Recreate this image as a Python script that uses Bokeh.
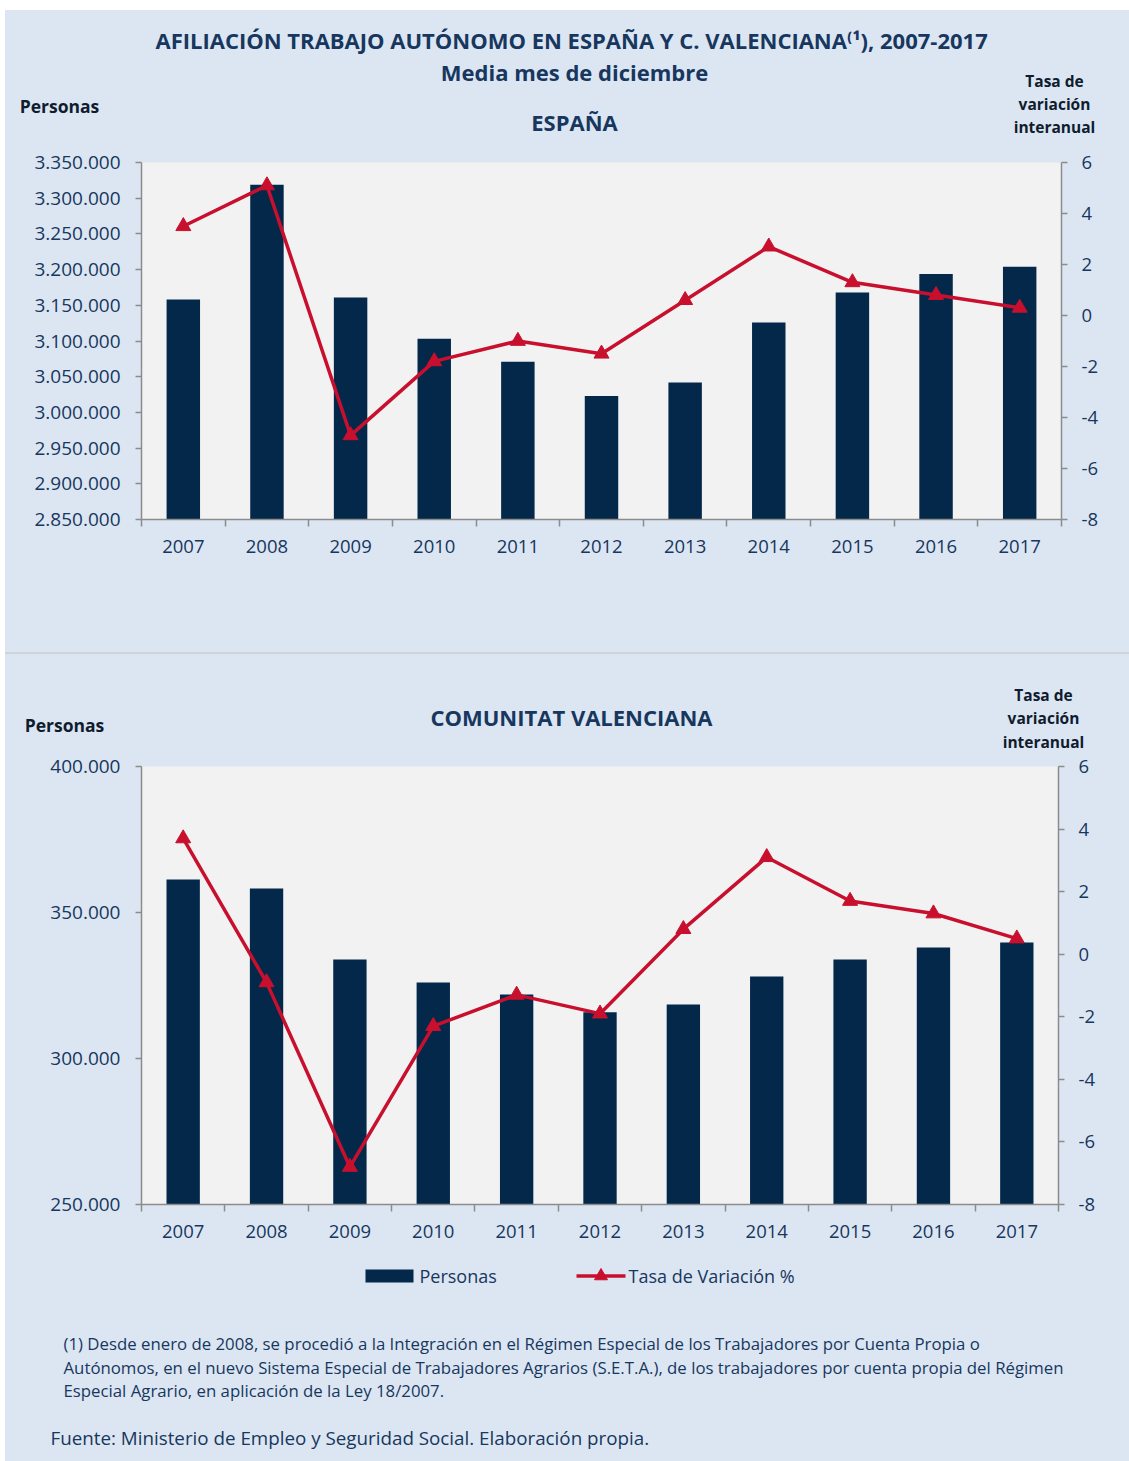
from bokeh.plotting import figure
from bokeh.models import Range1d, LinearAxis, FixedTicker, Label, CustomJSTickFormatter, Spacer
from bokeh.layouts import column
from bokeh.embed import file_html
from bokeh.resources import INLINE

# ---------------- data ----------------
years = ["2007", "2008", "2009", "2010", "2011", "2012", "2013", "2014", "2015", "2016", "2017"]
esp_personas = [3158000, 3319000, 3161000, 3103000, 3071000, 3023000, 3042000, 3126000, 3168000, 3194000, 3204000]
esp_tasa = [3.5, 5.1, -4.7, -1.8, -1.0, -1.5, 0.6, 2.7, 1.3, 0.8, 0.3]
cv_personas = [361300, 358200, 333900, 326000, 321900, 315800, 318500, 328100, 333900, 338000, 339700]
cv_tasa = [3.7, -0.9, -6.8, -2.3, -1.3, -1.9, 0.8, 3.1, 1.7, 1.3, 0.5]
esp_left_ticks = [2850000 + 50000 * i for i in range(11)]
cv_left_ticks = [250000, 300000, 350000, 400000]
tasa_ticks = [-8, -6, -4, -2, 0, 2, 4, 6]
legend_labels = ["Personas", "Tasa de Variación %"]

BG = "#dce6f2"
PLOT_BG = "#f2f2f2"
BAR = "#03284a"
RED = "#c8102e"
TXT = "#17375e"
DARK = "#0f1c2e"
AX = "#8c8c8c"
FONT = "Open Sans"

X0, Y0 = 5, 10          # page offset of the whole layout
W = 1129 - X0

centers = [i + 0.5 for i in range(len(years))]
bounds = [float(i) for i in range(len(years) + 1)]

thousands = CustomJSTickFormatter(code="""
return Math.round(tick).toString().replace(/\\B(?=(\\d{3})+(?!\\d))/g, '.');
""")
plain = CustomJSTickFormatter(code="return tick.toString();")


def text_fig(top, h):
    """A figure whose frame is the whole canvas, in page pixel coordinates."""
    p = figure(width=W, height=h, output_backend="svg", toolbar_location=None,
               x_range=Range1d(X0, X0 + W), y_range=Range1d(top + h, top),
               x_axis_location=None, y_axis_location=None, min_border=0,
               frame_align=False)
    p.background_fill_color = BG
    p.border_fill_color = BG
    p.outline_line_color = None
    p.grid.visible = False
    return p


def add_text(p, x, y, text, size, bold=False, align="center", color=TXT):
    p.add_layout(Label(x=x, y=y, text=text, text_align=align, text_baseline="middle",
                       text_font=FONT, text_font_size=f"{size}px",
                       text_font_style="bold" if bold else "normal", text_color=color))


def chart_fig(top, h, frame_l, frame_r, frame_t, frame_b, ymin, ymax, left_ticks, personas, tasa):
    p = figure(width=W, height=h, output_backend="svg", toolbar_location=None,
               x_range=Range1d(0, len(years)), y_range=Range1d(ymin, ymax),
               min_border_left=frame_l - X0, min_border_right=X0 + W - frame_r,
               min_border_top=frame_t - top, min_border_bottom=top + h - frame_b,
               frame_align=False)
    p.background_fill_color = PLOT_BG
    p.border_fill_color = BG
    p.outline_line_color = None
    p.grid.visible = False
    p.extra_y_ranges = {"tasa": Range1d(-8, 6)}

    p.vbar(x=centers, top=personas, bottom=ymin, width=0.4, fill_color=BAR, line_color=None)
    p.line(centers, tasa, y_range_name="tasa", line_color=RED, line_width=3.5)
    p.scatter(centers, tasa, y_range_name="tasa", marker="triangle", size=15,
              fill_color=RED, line_color=RED)

    xa = p.xaxis[0]
    xa.ticker = FixedTicker(ticks=centers, minor_ticks=bounds)
    xa.major_label_overrides = {c: y for c, y in zip(centers, years)}
    xa.major_tick_out = 0
    xa.major_tick_in = 0
    xa.minor_tick_out = 7
    xa.minor_tick_in = 0
    xa.minor_tick_line_color = AX
    xa.minor_tick_line_width = 1.5
    xa.major_label_standoff = 13
    xa.major_label_text_font_size = "18.5px"

    ya = p.yaxis[0]
    ya.ticker = FixedTicker(ticks=left_ticks)
    ya.formatter = thousands
    ya.major_label_standoff = 15
    ya.major_label_text_font_size = "19px"

    ra = LinearAxis(y_range_name="tasa", ticker=FixedTicker(ticks=tasa_ticks), formatter=plain)
    ra.major_label_standoff = 14
    ra.major_label_text_font_size = "18.5px"
    p.add_layout(ra, "right")

    for a in (ya, ra):
        a.major_tick_out = 6
        a.major_tick_in = 0
        a.minor_tick_out = 0
        a.minor_tick_in = 0
    for a in (xa, ya, ra):
        a.axis_line_color = AX
        a.axis_line_width = 1.5
        a.major_tick_line_color = AX
        a.major_tick_line_width = 1.5
        a.major_label_text_font = FONT
        a.major_label_text_color = TXT
    return p


# ---------- header España ----------
h1 = text_fig(Y0, 146 - Y0)
add_text(h1, 574, 39, "AFILIACIÓN TRABAJO AUTÓNOMO EN ESPAÑA Y  C. VALENCIANA⁽¹), 2007-2017", 22, True)
add_text(h1, 574, 71, "Media mes de diciembre", 22, True)
add_text(h1, 574, 121, "ESPAÑA", 22, True)
add_text(h1, 59, 105, "Personas", 17.5, True, color=DARK)
for i, t in enumerate(["Tasa de", "variación", "interanual"]):
    add_text(h1, 1054, 80 + 23 * i, t, 15.5, True, color=DARK)

# ---------- chart España ----------
c1 = chart_fig(146, 652 - 146, 141, 1061, 162, 519, 2850000, 3350000, esp_left_ticks, esp_personas, esp_tasa)

sep = Spacer(width=W, height=2, styles={"background-color": "#cfd4da"})

# ---------- header Comunitat Valenciana ----------
h2 = text_fig(654, 754 - 654)
add_text(h2, 571, 716, "COMUNITAT VALENCIANA", 22, True)
add_text(h2, 64, 724, "Personas", 17.5, True, color=DARK)
for i, t in enumerate(["Tasa de", "variación", "interanual"]):
    add_text(h2, 1043, 694 + 23.5 * i, t, 15.5, True, color=DARK)

# ---------- chart Comunitat Valenciana ----------
c2 = chart_fig(754, 1250 - 754, 141, 1058, 766, 1204, 250000, 400000, cv_left_ticks, cv_personas, cv_tasa)

# ---------- footer: legend + notes ----------
f2 = text_fig(1250, 1461 - 1250)
f2.quad(left=[365], right=[413], top=[1269], bottom=[1282], fill_color=BAR, line_color=None)
add_text(f2, 419, 1275.5, legend_labels[0], 18, False, align="left")
f2.line([576, 625], [1275.5, 1275.5], line_color=RED, line_width=3.5)
f2.scatter([600.5], [1275.5], marker="triangle", size=13, fill_color=RED, line_color=RED)
add_text(f2, 628, 1275.5, legend_labels[1], 18, False, align="left")

foot = ["(1)  Desde  enero  de  2008,  se  procedió  a  la  Integración  en  el  Régimen  Especial  de  los  Trabajadores  por  Cuenta  Propia  o",
        "Autónomos, en el nuevo Sistema Especial de Trabajadores Agrarios (S.E.T.A.), de los trabajadores por cuenta propia del Régimen",
        "Especial Agrario, en aplicación de la Ley 18/2007."]
for i, t in enumerate(foot):
    add_text(f2, 63, 1343 + 23.5 * i, t, 16.8, False, align="left")
add_text(f2, 50, 1437, "Fuente: Ministerio de Empleo y Seguridad Social. Elaboración propia.", 18.8, False, align="left")

layout = column(h1, c1, sep, h2, c2, f2, margin=(Y0, 0, 0, X0), styles={"background-color": BG})

with open("out.html", "w") as f:
    f.write(file_html(layout, INLINE, "Afiliación trabajo autónomo"))
